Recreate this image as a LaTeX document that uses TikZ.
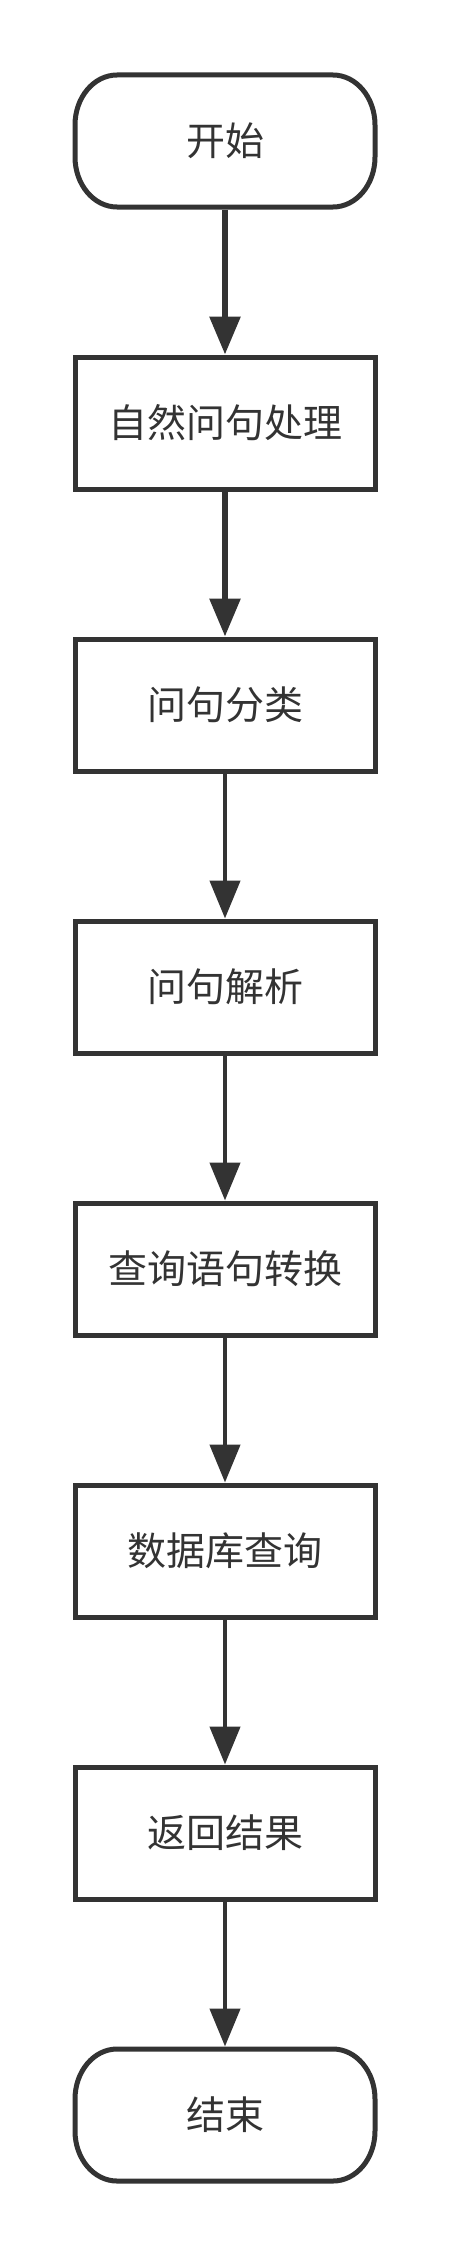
\documentclass[tikz,border=0pt]{standalone}
\usepackage{fontspec}
\newfontfamily\cjk{Noto Sans CJK SC}
\usetikzlibrary{arrows.meta}
\definecolor{ink}{HTML}{333333}
\newcommand\mylbl[1]{\raisebox{-3pt}{#1}}
\tikzset{
  base/.style={text=ink, minimum width=300pt, minimum height=132pt, inner sep=0pt, outer sep=2.5pt, font=\cjk\fontsize{39pt}{42pt}\selectfont},
  procbox/.style={base, rectangle, draw=ink, line width=5pt},
  termbox/.style={base, rectangle},
  termline/.style={draw=ink, line width=5pt},
  flow/.style={draw=ink, line width=4.6pt, -{Triangle[length=38pt,width=30pt]}},
  thickflow/.style={flow, line width=6pt}
}
\newcommand\termpath[1]{%
  \draw[termline] ([shift={(-108pt,66pt)}]#1.center) -- ++(216pt,0pt)
    arc[start angle=90,end angle=0,x radius=42pt,y radius=50pt] -- ++(0pt,-32pt)
    arc[start angle=0,end angle=-90,x radius=42pt,y radius=50pt] -- ++(-216pt,0pt)
    arc[start angle=-90,end angle=-180,x radius=42pt,y radius=50pt] -- ++(0pt,32pt)
    arc[start angle=180,end angle=90,x radius=42pt,y radius=50pt] -- cycle;}
\begin{document}
\begin{tikzpicture}[x=1pt,y=1pt]
\useasboundingbox (0,0) rectangle (450,-2256);
\node[termbox] (start) at (225,-141) {\mylbl{开始}};
\node[procbox] (n1) at (225,-423) {\mylbl{自然问句处理}};
\node[procbox] (n2) at (225,-705) {\mylbl{问句分类}};
\node[procbox] (n3) at (225,-987) {\mylbl{问句解析}};
\node[procbox] (n4) at (225,-1269) {\mylbl{查询语句转换}};
\node[procbox] (n5) at (225,-1551) {\mylbl{数据库查询}};
\node[procbox] (n6) at (225,-1833) {\mylbl{返回结果}};
\node[termbox] (end) at (225,-2115) {\mylbl{结束}};
\termpath{start}
\termpath{end}
\draw[thickflow] (start) -- (n1);
\draw[thickflow] (n1) -- (n2);
\draw[flow] (n2) -- (n3);
\draw[flow] (n3) -- (n4);
\draw[flow] (n4) -- (n5);
\draw[flow] (n5) -- (n6);
\draw[flow] (n6) -- (end);
\end{tikzpicture}
\end{document}
